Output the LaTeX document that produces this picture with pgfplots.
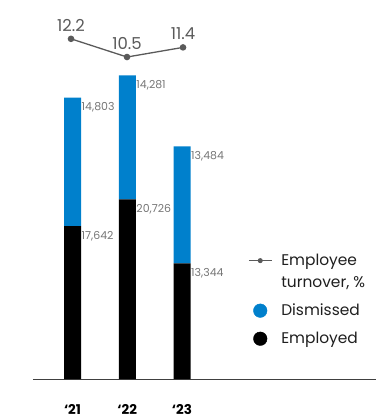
\documentclass[border=0pt]{standalone}
\usepackage{fontspec}
\setmainfont{Poppins}
\usepackage{pgfplots}
\pgfplotsset{compat=1.18}
\usepackage{pgfplotstable}
\definecolor{dismissed}{RGB}{0,128,204}
\definecolor{linegray}{RGB}{90,90,90}
\definecolor{labgray}{RGB}{118,118,118}
\pgfplotsset{
  circlegend/.style={legend image code/.code={\draw[##1] plot coordinates {(11.5bp,0bp)};}},
  linelegend/.style={legend image code/.code={\draw[##1, mark size=2bp, line width=1bp, mark repeat=2, mark phase=2] plot coordinates {(0bp,11bp) (11.5bp,11bp) (23bp,11bp)};}},
  baraxis/.style={at={(0,0)}, anchor=south west,
    scale only axis, width=343bp, height=379bp,
    xmin=-0.7215, xmax=5.543, ymin=0, ymax=43714, clip=false,
    /pgf/number format/assume math mode=true},
}
\pgfplotstableread{
x employed dismissed total turnover
0 17642 14803 32445 12.2
1 20726 14281 35007 10.5
2 13344 13484 26828 11.4
}\datatable
\begin{document}
\begin{tikzpicture}
\path[use as bounding box] (-33bp,-41bp) rectangle (343bp,379bp);
\begin{axis}[
  baraxis,
  ybar stacked, bar width=17bp,
  axis x line=bottom, axis y line=none,
  x axis line style={-, draw=black!75, line width=0.8bp},
  xtick={0,1,2}, xticklabels={‘21,‘22,‘23},
  major tick length=0pt,
  xticklabel style={font=\fontsize{13.5}{15}\selectfont\bfseries, yshift=-22bp},
]
\addplot[fill=black, draw=none] table[x=x, y=employed] {\datatable};
\addplot[fill=dismissed, draw=none] table[x=x, y=dismissed] {\datatable};
\end{axis}
\begin{axis}[
  baraxis, hide axis,
  point meta=explicit,
  nodes near coords={\pgfmathprintnumber[fixed,precision=0,1000 sep={,}]{\pgfplotspointmeta}},
  every node near coord/.append style={anchor=west, xshift=8.5bp, yshift=-10bp, font=\fontsize{11}{13}\selectfont, text=labgray, inner sep=0.5bp},
]
\addplot[draw=none, mark=none] table[x=x, y=employed, meta=employed] {\datatable};
\addplot[draw=none, mark=none] table[x=x, y=total, meta=dismissed] {\datatable};
\end{axis}
\begin{axis}[
  at={(0,0)}, anchor=south west,
  scale only axis, width=343bp, height=379bp,
  xmin=-0.6786, xmax=5.446, ymin=-19.59, ymax=15.83,
  hide axis, clip=false,
  /pgf/number format/assume math mode=true,
  legend style={at={(axis description cs:0.627,0.335)}, anchor=north west,
    draw=none, fill=none, inner sep=0pt, row sep=11bp, column sep=7bp,
    font=\fontsize{15.5}{22}\selectfont, text=black!88,
    cells={align=left}},
  legend cell align=left,
]
\addplot[linegray, line width=1.3bp, mark=*, mark size=2.6bp, linelegend,
  point meta=explicit,
  nodes near coords={\pgfmathprintnumber[fixed,fixed zerofill,precision=1]{\pgfplotspointmeta}},
  every node near coord/.append style={anchor=south, yshift=7bp, font=\fontsize{16.5}{18}\selectfont, text=linegray, inner sep=0pt},
] table[x=x, y=turnover, meta=turnover] {\datatable};
\addlegendentry{Employee\\turnover, \%}
\addlegendimage{only marks, mark=*, mark size=6.8bp, draw=dismissed, fill=dismissed, circlegend}
\addlegendentry{Dismissed}
\addlegendimage{only marks, mark=*, mark size=6.8bp, draw=black, fill=black, circlegend}
\addlegendentry{Employed}
\end{axis}
\end{tikzpicture}
\end{document}
